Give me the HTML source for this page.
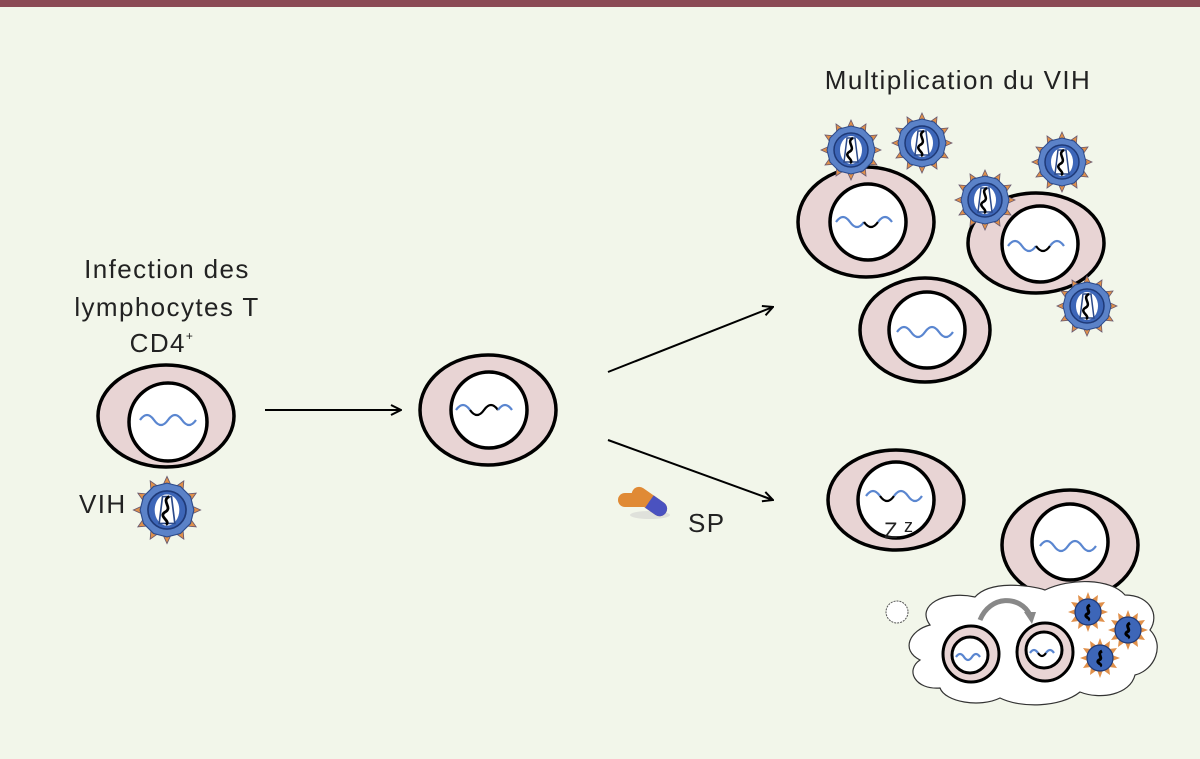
<!DOCTYPE html>
<html><head><meta charset="utf-8"><style>
body{margin:0;background:#f2f6ea;}
svg{display:block}
text{font-family:"Liberation Sans",sans-serif;fill:#222;letter-spacing:1.4px}
</style></head><body>
<svg width="1200" height="759" viewBox="0 0 1200 759">
<defs>
<g id="v">
<polygon points="0,-30 5,-19 15,-26 14,-14 26,-15 19,-5 30,0 19,5 26,15 14,14 15,26 5,19 0,30 -5,19 -15,26 -14,14 -26,15 -19,5 -30,0 -19,-5 -26,-15 -14,-14 -15,-26 -5,-19" fill="#e0904a" stroke="#6a5a70" stroke-width="0.8"/>
<polygon points="0,-24 12,-21 21,-12 24,0 21,12 12,21 0,24 -12,21 -21,12 -24,0 -21,-12 -12,-21" fill="#5b82c8" stroke="#2c4a8a" stroke-width="1"/>
<circle r="17" fill="#3d66b8" stroke="#1f3a78" stroke-width="1.5"/>
<ellipse rx="11" ry="14" fill="#fff"/>
<path d="M-7,12 L-4,-12 L4,-12 L7,12 Z" fill="none" stroke="#2c4a8a" stroke-width="1.5"/>
<path d="M2,-12 C-6,-8 6,-2 -2,2 C-8,6 4,10 -1,13" fill="none" stroke="#000" stroke-width="2.5"/>
</g>
<g id="sv">
<polygon points="0,-20 3,-12 10,-17 9,-9 17,-10 12,-3 20,0 12,3 17,10 9,9 10,17 3,12 0,20 -3,12 -10,17 -9,9 -17,10 -12,3 -20,0 -12,-3 -17,-10 -9,-9 -10,-17 -3,-12" fill="#e0904a"/>
<circle r="13" fill="#3d66b8" stroke="#1f3a78" stroke-width="1.2"/>
<path d="M2,-7 C-4,-4 4,0 -1,2 C-5,5 3,6 0,8" fill="none" stroke="#000" stroke-width="3"/>
</g>
<marker id="a" markerWidth="12" markerHeight="12" refX="11" refY="6" orient="auto" markerUnits="userSpaceOnUse"><path d="M1,1 L11,6 L1,11" fill="none" stroke="#000" stroke-width="2"/></marker>
</defs>
<rect width="1200" height="7" fill="#8b4a55"/>

<!-- texts -->
<text x="958" y="89" font-size="26" text-anchor="middle">Multiplication du VIH</text>
<text x="167" y="278" font-size="26" text-anchor="middle">Infection des</text>
<text x="167" y="316" font-size="26" text-anchor="middle">lymphocytes T</text>
<text x="162" y="352" font-size="26" text-anchor="middle">CD4<tspan font-size="12" dy="-12">+</tspan></text>
<text x="79" y="513" font-size="26">VIH</text>
<text x="688" y="532" font-size="26">SP</text>

<!-- arrows -->
<g stroke="#000" stroke-width="2" marker-end="url(#a)">
<line x1="265" y1="410" x2="401" y2="410"/>
<line x1="608" y1="372" x2="773" y2="307"/>
<line x1="608" y1="440" x2="773" y2="500"/>
</g>

<!-- pill -->
<g>
<ellipse cx="650" cy="515" rx="20" ry="4" fill="#ccc" opacity="0.5"/>
<rect x="618" y="493" width="36" height="14" rx="7" fill="#e08a35"/>
<g transform="rotate(35 648 500)"><rect x="630" y="493" width="40" height="15" rx="7.5" fill="#e08a35"/><rect x="650" y="493" width="20" height="15" rx="7.5" fill="#4a52c0"/><rect x="650" y="493" width="8" height="15" fill="#4a52c0"/></g>
</g>

<!-- cells -->
<g stroke="#000" stroke-width="3.5">
<ellipse cx="166" cy="416" rx="68" ry="51" fill="#e8d4d4"/><circle cx="168" cy="422" r="39" fill="#fff"/>
<ellipse cx="488" cy="410" rx="68" ry="55" fill="#e8d4d4"/><circle cx="489" cy="410" r="38" fill="#fff"/>
<ellipse cx="866" cy="222" rx="68" ry="55" fill="#e8d4d4"/><circle cx="868" cy="222" r="38" fill="#fff"/>
<ellipse cx="1036" cy="243" rx="68" ry="50" fill="#e8d4d4"/><circle cx="1040" cy="244" r="38" fill="#fff"/>
<ellipse cx="925" cy="330" rx="65" ry="52" fill="#e8d4d4"/><circle cx="927" cy="330" r="38" fill="#fff"/>
<ellipse cx="896" cy="500" rx="68" ry="50" fill="#e8d4d4"/><circle cx="896" cy="500" r="38" fill="#fff"/>
<ellipse cx="1070" cy="545" rx="68" ry="55" fill="#e8d4d4"/><circle cx="1070" cy="542" r="38" fill="#fff"/>
</g>
<!-- cloud -->
<path d="M930,625 C915,605 945,590 975,597 C990,580 1030,585 1045,590 C1070,578 1110,578 1125,595 C1150,595 1160,615 1150,630 C1165,645 1155,670 1135,675 C1130,695 1100,700 1080,692 C1060,708 1020,708 1000,698 C980,708 945,702 940,688 C915,690 905,670 920,660 C900,650 910,630 930,625 Z" fill="#fff" stroke="#333" stroke-width="1.2"/>
<circle cx="897" cy="612" r="11" fill="#fff" stroke="#555" stroke-width="1" stroke-dasharray="2,1"/>
<path d="M980,620 C990,595 1020,595 1030,615" fill="none" stroke="#888" stroke-width="5"/>
<path d="M1024,612 L1036,612 L1032,624 Z" fill="#888"/>
<g stroke="#000" stroke-width="3">
<ellipse cx="971" cy="654" rx="28" ry="28" fill="#e8d4d4"/><circle cx="970" cy="655" r="18" fill="#fff"/>
<ellipse cx="1045" cy="652" rx="28" ry="29" fill="#e8d4d4"/><circle cx="1044" cy="650" r="18" fill="#fff"/>
</g>

<!-- rna -->
<g fill="none" stroke-width="2.2">
<path d="M140,420 q7,-10 14,0 t14,0 t14,0 t14,0" stroke="#5a86d0"/>
<path d="M456,410 q7,-10 14,0" stroke="#5a86d0"/><path d="M470,410 q7,10 14,0 t14,0" stroke="#000"/><path d="M498,410 q7,-10 14,0" stroke="#5a86d0"/>
<path d="M836,222 q7,-10 14,0 t14,0" stroke="#5a86d0"/><path d="M864,222 q7,10 14,0" stroke="#000"/><path d="M878,222 q7,-10 14,0" stroke="#5a86d0"/>
<path d="M1008,246 q7,-10 14,0 t14,0" stroke="#5a86d0"/><path d="M1036,246 q7,10 14,0" stroke="#000"/><path d="M1050,246 q7,-10 14,0" stroke="#5a86d0"/>
<path d="M897,332 q7,-10 14,0 t14,0 t14,0 t14,0" stroke="#5a86d0"/>
<path d="M866,496 q7,-10 14,0" stroke="#5a86d0"/><path d="M880,496 q7,10 14,0" stroke="#000"/><path d="M894,496 q7,-10 14,0 t14,0" stroke="#5a86d0"/>
<path d="M1040,546 q7,-10 14,0 t14,0 t14,0 t14,0" stroke="#5a86d0"/>
<path d="M956,657 q4,-6 8,0 t8,0 t8,0" stroke="#5a86d0"/>
<path d="M1030,653 q4,-6 8,0" stroke="#5a86d0"/><path d="M1038,653 q4,6 8,0" stroke="#000"/><path d="M1046,653 q4,-6 8,0" stroke="#5a86d0"/>
</g>
<text x="884" y="538" font-size="22">Z</text><text x="904" y="532" font-size="18">z</text>

<!-- viruses -->
<use href="#v" transform="translate(167,510) scale(1.12)"/>
<use href="#v" x="851" y="150"/>
<use href="#v" x="922" y="143"/>
<use href="#v" x="1062" y="162"/>
<use href="#v" x="985" y="200"/>
<use href="#v" x="1087" y="306"/>
<use href="#sv" x="1088" y="612"/>
<use href="#sv" x="1128" y="630"/>
<use href="#sv" x="1100" y="658"/>
</svg>
</body></html>
